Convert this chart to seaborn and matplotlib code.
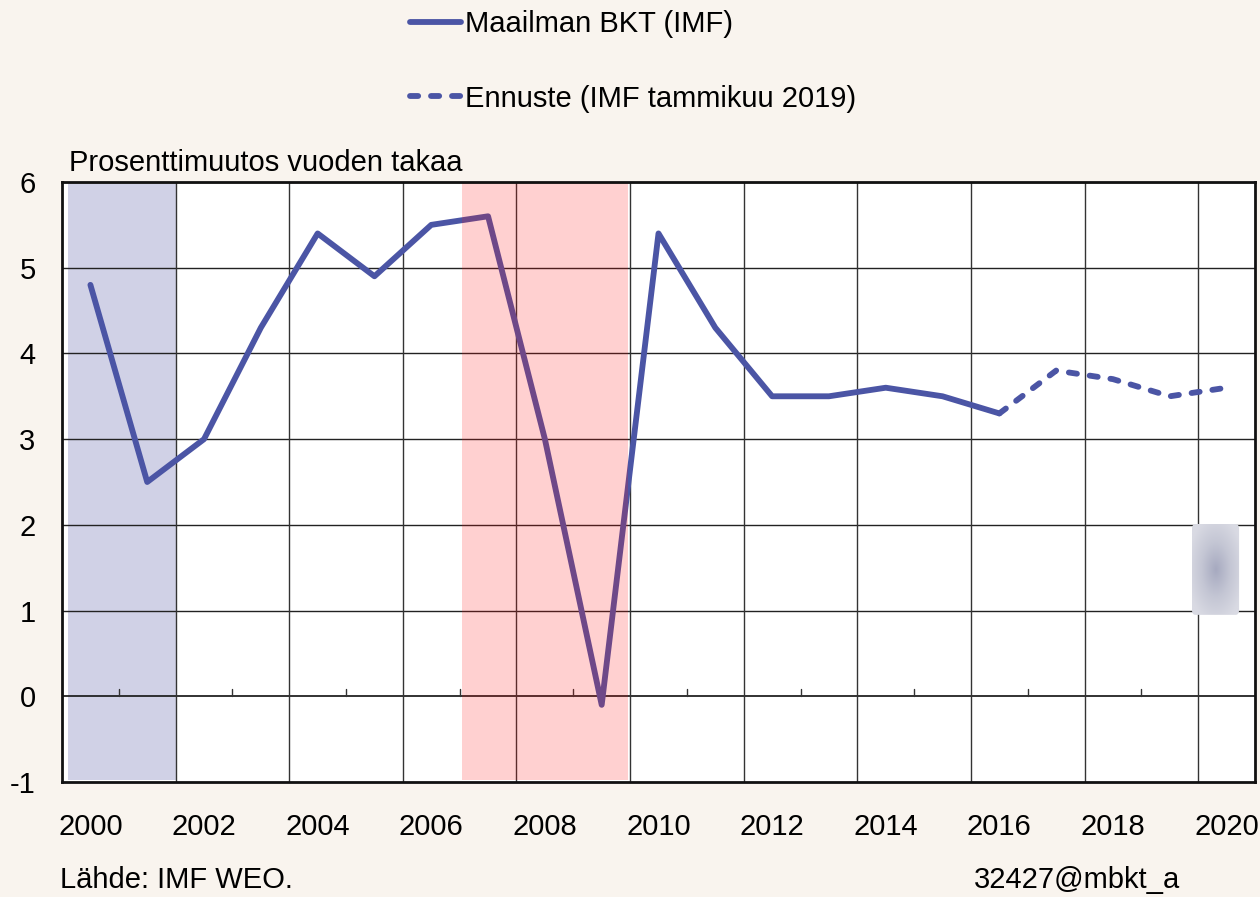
import numpy as np
import pandas as pd
import matplotlib
matplotlib.use("Agg")
import matplotlib.pyplot as plt
from matplotlib.patches import FancyBboxPatch
import seaborn as sns

# ---- data ----
years_hist = [2000, 2001, 2002, 2003, 2004, 2005, 2006, 2007, 2008, 2009,
              2010, 2011, 2012, 2013, 2014, 2015, 2016]
gdp_hist = [4.8, 2.5, 3.0, 4.3, 5.4, 4.9, 5.5, 5.6, 3.0, -0.1,
            5.4, 4.3, 3.5, 3.5, 3.6, 3.5, 3.3]
years_fc = [2016, 2017, 2018, 2019, 2020]
gdp_fc = [3.3, 3.8, 3.7, 3.5, 3.6]
xtick_years = [2000, 2002, 2004, 2006, 2008, 2010, 2012, 2014, 2016, 2018, 2020]
ytick_vals = [-1, 0, 1, 2, 3, 4, 5, 6]
label_hist = "Maailman BKT (IMF)"
label_fc = "Ennuste (IMF tammikuu 2019)"
ylabel_text = "Prosenttimuutos vuoden takaa"
source_text = "Lähde: IMF WEO."
code_text = "32427@mbkt_a"
recession_2001 = (1999.6, 2001.5)
recession_2008 = (2006.54, 2009.47)

sns.set_style("white")
plt.rcParams['font.family'] = ['Liberation Sans', 'DejaVu Sans']
plt.rcParams['text.color'] = 'black'
plt.rcParams['xtick.color'] = 'black'
plt.rcParams['ytick.color'] = 'black'

BG = "#F9F4EE"
LINE = "#4B55A5"
FS = 21

fig = plt.figure(figsize=(12.6, 8.97), dpi=100, facecolor=BG)
ax = fig.add_axes([62/1260, 1-782/897, (1255-62)/1260, (782-182)/897])
ax.set_facecolor("white")

df_h = pd.DataFrame({"year": years_hist, "value": gdp_hist})
df_f = pd.DataFrame({"year": years_fc, "value": gdp_fc})

ax.set_xlim(1999.5, 2020.5)
ax.set_ylim(-1, 6)

# grid
for y in ytick_vals[1:]:
    ax.axhline(y, color="#222222", lw=1.0 if y != 0 else 1.3, zorder=1)
for x in np.arange(2001.5, 2020, 2):
    ax.axvline(x, color="#333333", lw=1.0, zorder=1)
# small ticks on zero line
for x in np.arange(2000.5, 2020, 2):
    ax.plot([x, x], [0, 0.085], color="#333333", lw=1.0, zorder=1)

# recession shading
ax.axvspan(*recession_2001, ymin=0.003, ymax=1, color="#D0D1E6", zorder=0.5, lw=0)
ax.axvspan(*recession_2008, ymin=0.003, ymax=1, color=(1.0, 0.08, 0.08), alpha=0.2,
           zorder=4, lw=0)

sns.lineplot(data=df_h, x="year", y="value", ax=ax, color=LINE, lw=4.2,
             label=label_hist, zorder=3)
sns.lineplot(data=df_f, x="year", y="value", ax=ax, color=LINE, lw=4.2,
             linestyle=(0, (1.4, 2.2)), label=label_fc, zorder=3)
for l in ax.lines:
    l.set_solid_capstyle("round")
    l.set_dash_capstyle("round")

# gray artifact box
gx0, gx1, gy0, gy1 = 2019.39, 2020.22, 0.95, 2.01
yy, xx = np.mgrid[-1:1:120j, -1:1:120j]
rr = np.clip(np.sqrt(xx**2 + yy**2), 0, 1.2)
im = ax.imshow(rr, extent=(gx0, gx1, gy0, gy1),
               cmap=matplotlib.colors.LinearSegmentedColormap.from_list(
                   "g", ["#A7AAC0", "#C4C6D4", "#D9DAE3"]),
               aspect="auto", zorder=2, interpolation="bilinear")
box = FancyBboxPatch((gx0, gy0), gx1-gx0, gy1-gy0, boxstyle="round,pad=0,rounding_size=0.06",
                     transform=ax.transData, facecolor="none", edgecolor="none")
ax.add_patch(box)
im.set_clip_path(box)
ax.set_xlim(1999.5, 2020.5)
ax.set_ylim(-1, 6)

ax.set_xticks(xtick_years)
ax.set_xticklabels([str(y) for y in xtick_years])
ax.set_yticks(ytick_vals)
ax.set_yticklabels([str(v) for v in ytick_vals])
ax.tick_params(axis="x", length=0, pad=22, labelsize=FS, labelcolor="black")
ax.tick_params(axis="y", length=0, pad=19, labelsize=FS, labelcolor="black")
ax.set_xlabel("")
ax.set_ylabel("")

for s in ax.spines.values():
    s.set_visible(True)
    s.set_color("#111111")
    s.set_linewidth(2)
    s.set_zorder(6)

ax.text(0.006, 1.008, ylabel_text, transform=ax.transAxes, fontsize=FS,
        ha="left", va="bottom", color="black")

leg = ax.legend(loc="upper left", bbox_to_anchor=(410/1260, 1-10/897),
                bbox_transform=fig.transFigure, frameon=False, fontsize=FS,
                handlelength=1.75, handletextpad=0.12, labelspacing=1.6,
                borderpad=0, borderaxespad=0)
for t in leg.get_texts():
    t.set_color("black")
for h in leg.get_lines():
    h.set_solid_capstyle("round")
    h.set_dash_capstyle("round")

fig.text(60/1260, 1-880/897, source_text, fontsize=FS, ha="left", va="center", color="black")
fig.text(1180/1260, 1-880/897, code_text, fontsize=FS, ha="right", va="center", color="black")

fig.savefig("out.png", dpi=100, facecolor=BG)
